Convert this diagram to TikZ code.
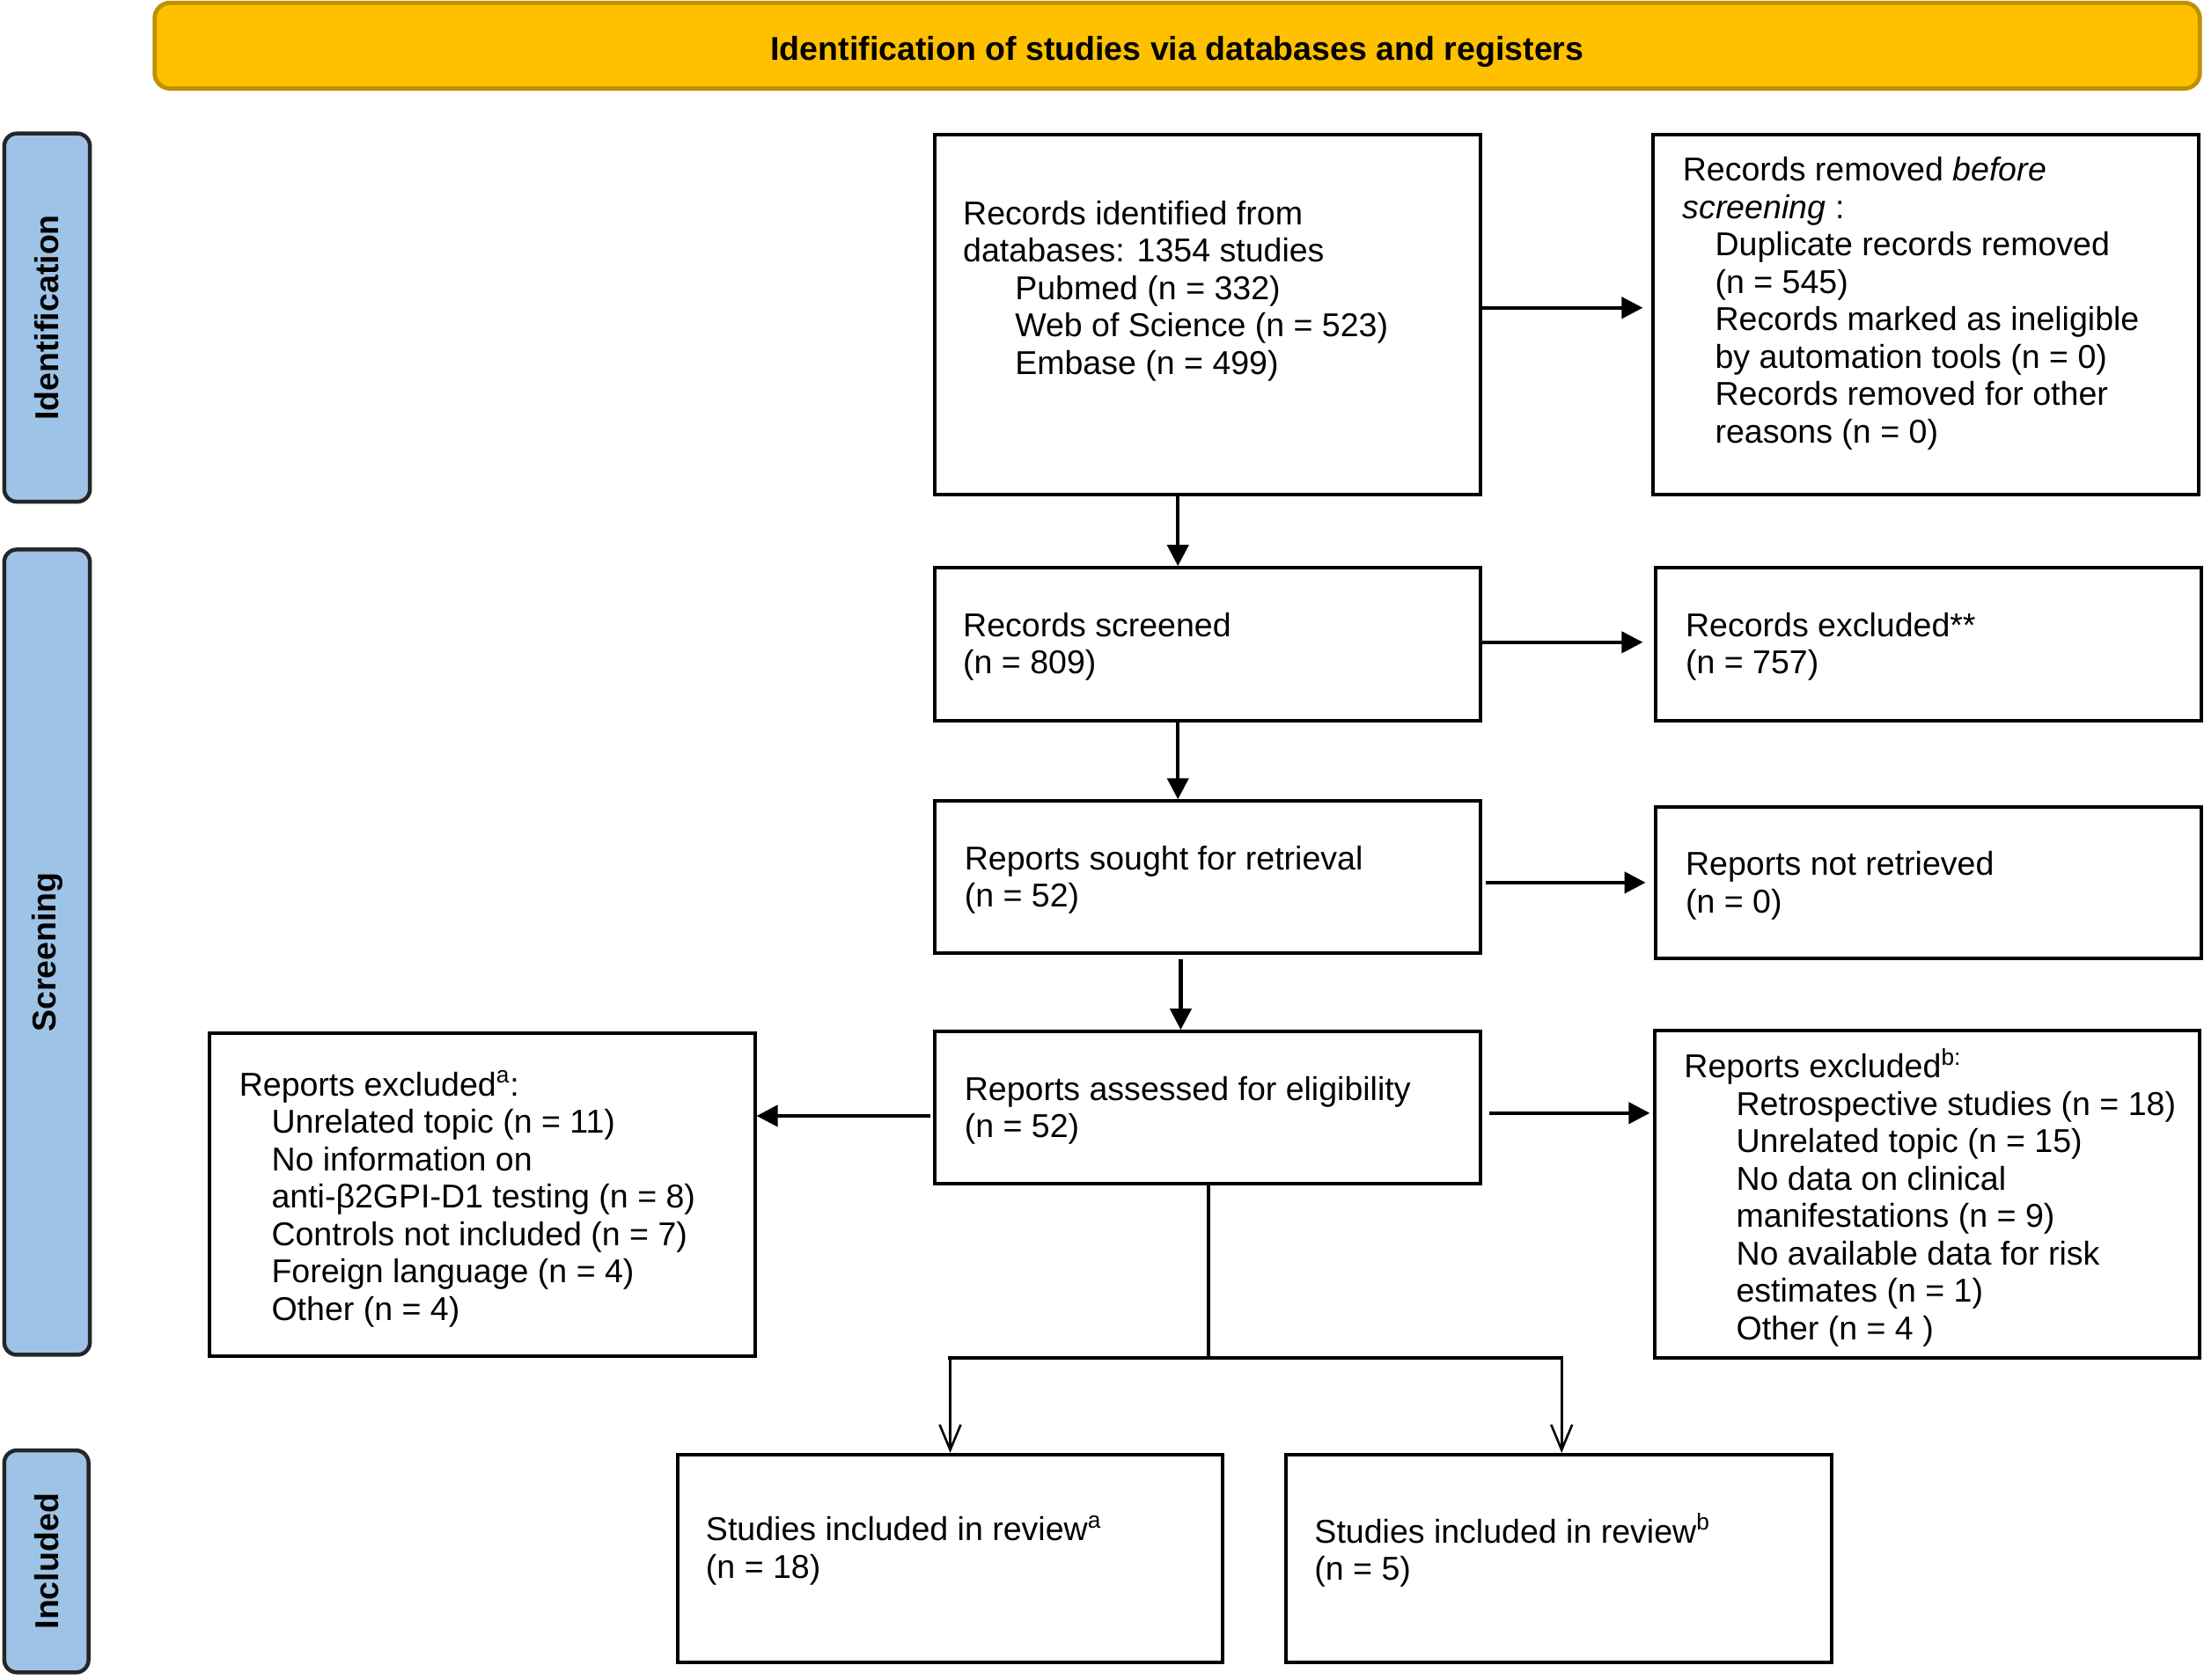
\documentclass[tikz,border=0pt]{standalone}
\usepackage{fontspec}
\setmainfont{Liberation Sans}
\usetikzlibrary{arrows.meta,calc}
\definecolor{gold}{HTML}{FFC000}
\definecolor{golddark}{HTML}{BF9000}
\definecolor{sideblue}{HTML}{9DC3E6}
\newcommand{\ia}{\hspace*{23pt}}
\newcommand{\ib}{\hspace*{37pt}}
\begin{document}
\begin{tikzpicture}[x=1pt,y=-1pt,
  box/.style={draw=black, line width=2.5pt, fill=white, inner sep=0pt, minimum width=388pt},
  txt/.style={anchor=west, align=left, inner sep=0pt, font=\fontsize{23.5}{26.6}\selectfont},
  side/.style={draw=black!85, line width=2.8pt, fill=sideblue, rounded corners=9pt, rotate=90, inner sep=0pt, font=\bfseries\fontsize{23.5}{26}\selectfont},
  banner/.style={draw=golddark, line width=3pt, fill=gold, rounded corners=11pt, inner sep=0pt},
  bannertxt/.style={inner sep=0pt, font=\bfseries\fontsize{23.5}{26}\selectfont},
  arr/.style={line width=2.6pt, -{Triangle[length=15pt,width=15pt]}},
  link/.style={line width=2.6pt},
  openarr/.style={line width=1.6pt, -{Straight Barb[length=18pt,width=15pt,line width=1.6pt]}}
]
\useasboundingbox (0,0) rectangle (1568,1195);

% banner and side bars
\node[banner, minimum width=1455pt, minimum height=61pt] (title) at (837.5,32.5) {};
\node[bannertxt] (titletxt) at (837.5,37) {Identification of studies via databases and registers};
\node[side, minimum width=262pt, minimum height=61pt] (sident) at (33.5,226) {Identification};
\node[side, minimum width=573pt, minimum height=61pt] (sscreen) at (33.5,677.5) {Screening};
\node[side, minimum width=158pt, minimum height=60pt] (sincl) at (33,1111) {Included};

% boxes
\node[box, minimum height=256pt] (A) at (859,224) {};
\node[box, minimum height=256pt] (B) at (1370,224) {};
\node[box, minimum height=109pt] (C) at (859,458.5) {};
\node[box, minimum height=109pt] (D) at (1372,458.5) {};
\node[box, minimum height=108pt] (E) at (859,624) {};
\node[box, minimum height=108pt] (F) at (1372,628) {};
\node[box, minimum height=108pt] (G) at (859,788) {};
\node[box, minimum height=230pt] (H) at (343,850) {};
\node[box, minimum height=233pt] (I) at (1371,849.5) {};
\node[box, minimum height=148pt] (J) at (676,1109) {};
\node[box, minimum height=148pt] (K) at (1109,1109) {};

% texts
\node[txt] (tA) at (685,207) {Records identified from\\databases: 1354 studies\\\ib Pubmed (n = 332)\\\ib Web of Science (n = 523)\\\ib Embase (n = 499)};
\node[txt] (tB) at (1197,216) {Records removed \textit{before}\\\textit{screening} :\\\ia Duplicate records removed\\\ia (n = 545)\\\ia Records marked as ineligible\\\ia by automation tools (n = 0)\\\ia Records removed for other\\\ia reasons (n = 0)};
\node[txt] (tC) at (685,460) {Records screened\\(n = 809)};
\node[txt] (tD) at (1199,460) {Records excluded**\\(n = 757)};
\node[txt] (tE) at (686,626) {Reports sought for retrieval\\(n = 52)};
\node[txt] (tF) at (1199,630) {Reports not retrieved\\(n = 0)};
\node[txt] (tG) at (686,790) {Reports assessed for eligibility\\(n = 52)};
\node[txt] (tH) at (170,853) {Reports excluded\textsuperscript{a}:\\\ia Unrelated topic (n = 11)\\\ia No information on\\\ia anti-β2GPI-D1 testing (n = 8)\\\ia Controls not included (n = 7)\\\ia Foreign language (n = 4)\\\ia Other (n = 4)};
\node[txt] (tI) at (1198,852) {Reports excluded\textsuperscript{b:}\\\ib Retrospective studies (n = 18)\\\ib Unrelated topic (n = 15)\\\ib No data on clinical\\\ib manifestations (n = 9)\\\ib No available data for risk\\\ib estimates (n = 1)\\\ib Other (n = 4 )};
\node[txt] (tJ) at (502,1103) {Studies included in review\textsuperscript{a}\\(n = 18)};
\node[txt] (tK) at (935,1103) {Studies included in review\textsuperscript{b}\\(n = 5)};

% connectors
\draw[arr, shorten >=6pt] ($(A.east)+(0,-5)$) -- ($(B.west)+(0,-5)$);
\draw[arr] ($(A.south)+(-21,0)$) -- ($(C.north)+(-21,0)$);
\draw[arr, shorten >=8pt] ($(C.east)+(0,-1.5)$) -- ($(D.west)+(0,-1.5)$);
\draw[arr] ($(C.south)+(-21,0)$) -- ($(E.north)+(-21,0)$);
\draw[arr, shorten <=3pt, shorten >=6pt] (E.east |- F.west) -- (F.west);
\draw[arr] ($(E.south)+(-19,3)$) -- ($(G.north)+(-19,0)$);
\draw[arr, shorten <=2pt] ($(G.west)+(0,6)$) -- (H.east |- {$(G.west)+(0,6)$});
\draw[arr, shorten <=5pt, shorten >=2pt] ($(G.east)+(0,4)$) -- (I.west |- {$(G.east)+(0,4)$});

\coordinate (split) at (860,966);
\coordinate (jl) at (676,966);
\coordinate (kr) at (1111,966);
\draw[link] (G.south -| split) -- (split);
\draw[link, line cap=rect] (jl) -- (kr);
\draw[openarr] (jl) -- (J.north -| jl);
\draw[openarr] (kr) -- (K.north -| kr);
\end{tikzpicture}
\end{document}
